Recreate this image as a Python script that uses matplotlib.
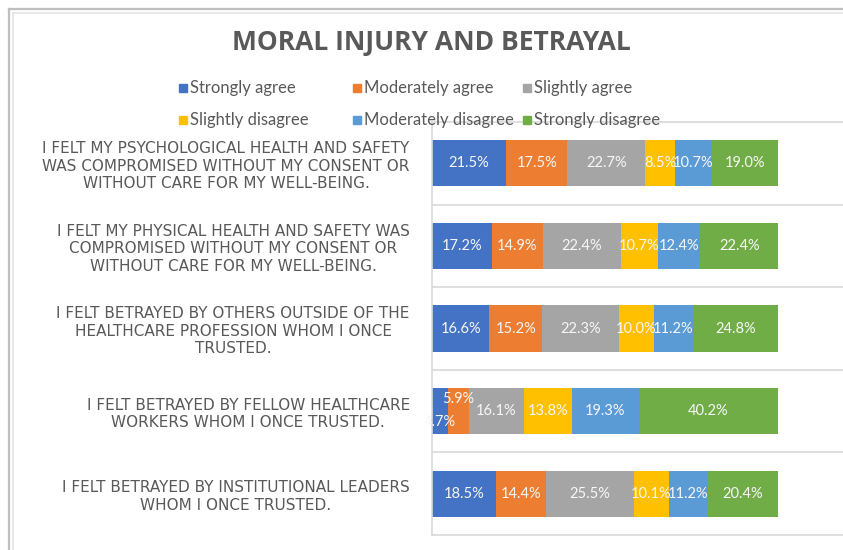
import matplotlib
matplotlib.use("Agg")
import matplotlib.pyplot as plt
from matplotlib.patches import Rectangle
from matplotlib.lines import Line2D

# data
statements = [
    "I FELT MY PSYCHOLOGICAL HEALTH AND SAFETY\nWAS COMPROMISED WITHOUT MY CONSENT OR\nWITHOUT CARE FOR MY WELL-BEING.",
    "I FELT MY PHYSICAL HEALTH AND SAFETY WAS\nCOMPROMISED WITHOUT MY CONSENT OR\nWITHOUT CARE FOR MY WELL-BEING.",
    "I FELT BETRAYED BY OTHERS OUTSIDE OF THE\nHEALTHCARE PROFESSION WHOM I ONCE\nTRUSTED.",
    "I FELT BETRAYED BY FELLOW HEALTHCARE\nWORKERS WHOM I ONCE TRUSTED.",
    "I FELT BETRAYED BY INSTITUTIONAL LEADERS\nWHOM I ONCE TRUSTED.",
]
series_names = ["Strongly agree", "Moderately agree", "Slightly agree",
                "Slightly disagree", "Moderately disagree", "Strongly disagree"]
strongly_agree = [21.5, 17.2, 16.6, 4.7, 18.5]
moderately_agree = [17.5, 14.9, 15.2, 5.9, 14.4]
slightly_agree = [22.7, 22.4, 22.3, 16.1, 25.5]
slightly_disagree = [8.5, 10.7, 10.0, 13.8, 10.1]
moderately_disagree = [10.7, 12.4, 11.2, 19.3, 11.2]
strongly_disagree = [19.0, 22.4, 24.8, 40.2, 20.4]
series = [strongly_agree, moderately_agree, slightly_agree,
          slightly_disagree, moderately_disagree, strongly_disagree]

colors = ["#4472C4", "#ED7D31", "#A5A5A5", "#FFC000", "#5B9BD5", "#70AD47"]
text_gray = "#595959"
grid_gray = "#D9D9D9"

W, H = 843, 550
fig = plt.figure(figsize=(W / 100, H / 100), dpi=100)
fig.patch.set_facecolor("white")

# screenshot frame
fig.add_artist(Line2D([9 / W, 9 / W], [0, 1 - 9 / H], color="#BFBFBF", lw=1.6))
fig.add_artist(Line2D([9 / W, 1], [1 - 9 / H, 1 - 9 / H], color="#BFBFBF", lw=1.6))
fig.add_artist(Line2D([13 / W, 13 / W], [0, 1 - 13 / H], color="#E4E4E4", lw=1.2))
fig.add_artist(Line2D([13 / W, 1], [1 - 13 / H, 1 - 13 / H], color="#E4E4E4", lw=1.2))

ax = fig.add_axes([432 / W, 15 / H, (W - 432) / W, (535 - 122) / H])
ax.set_facecolor("none")

ys = list(range(len(statements)))
left = [0.0] * len(statements)
for vals, name, c in zip(series, series_names, colors):
    bars = ax.barh(ys, vals, left=left, height=0.56, color=c, label=name)
    for i, (b, v) in enumerate(zip(bars, vals)):
        dy = 0
        if i == 3 and name == "Strongly agree":
            dy = -8
        elif i == 3 and name == "Moderately agree":
            dy = 9
        ax.annotate(f"{v:.1f}%", (b.get_x() + b.get_width() / 2, b.get_y() + b.get_height() / 2),
                    xytext=(0, dy), textcoords="offset points",
                    ha="center", va="center", color="#F7F7F7", fontsize=10.5, family="Lato")
    left = [l + v for l, v in zip(left, vals)]

ax.set_xlim(0, 118.8)
ax.set_ylim(len(statements) - 0.5, -0.5)
ax.set_xticks([])
ax.set_yticks(ys)
ax.set_yticklabels(statements, ha="right", multialignment="center",
                   fontsize=11, color=text_gray, linespacing=1.2, family="DejaVu Sans")
ax.set_yticks([y + 0.5 for y in ys[:-1]], minor=True)
ax.tick_params(axis="y", which="both", length=0, pad=16)
ax.grid(True, which="minor", axis="y", color=grid_gray, lw=1.2)
ax.set_axisbelow(True)
for s in ["top", "bottom", "left"]:
    ax.spines[s].set_color(grid_gray)
    ax.spines[s].set_linewidth(1.2)
ax.spines["right"].set_visible(False)

fig.text(431 / W, 1 - 42 / H, "MORAL INJURY AND BETRAYAL", ha="center", va="center",
         fontsize=19, fontweight="bold", color=text_gray, family="Open Sans")

# legend, Excel-style fixed columns
col_x = [183, 357, 527]
row_y = [88, 120]
for i, (name, c) in enumerate(zip(series_names, colors)):
    x, y = col_x[i % 3], row_y[i // 3]
    fig.add_artist(Rectangle(((x - 4) / W, 1 - (y + 4) / H), 8 / W, 8 / H,
                             color=c, transform=fig.transFigure))
    fig.text((x + 7) / W, 1 - y / H, name, ha="left", va="center",
             fontsize=12, color=text_gray, family="Lato")

fig.savefig("out.png", dpi=100)
